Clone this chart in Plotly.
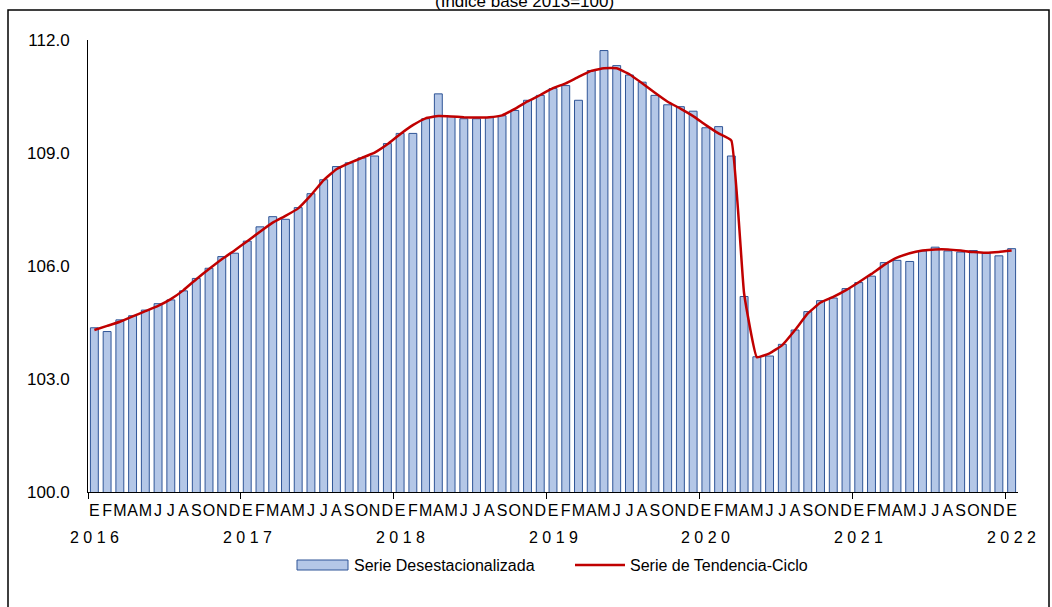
import plotly.graph_objects as go

# ---- data ----
month_letters = ["E", "F", "M", "A", "M", "J", "J", "A", "S", "O", "N", "D"]
years = ["2016", "2017", "2018", "2019", "2020", "2021", "2022"]

serie_desest = [
    104.36, 104.26, 104.57, 104.68, 104.83, 105.00, 105.10, 105.34, 105.67, 105.94, 106.25, 106.34,  # 2016
    106.66, 107.04, 107.31, 107.24, 107.55, 107.92, 108.29, 108.64, 108.74, 108.87, 108.92, 109.25,  # 2017
    109.52, 109.52, 109.91, 110.57, 109.97, 109.91, 109.91, 109.94, 109.99, 110.13, 110.40, 110.53,  # 2018
    110.71, 110.79, 110.40, 111.19, 111.72, 111.32, 111.07, 110.88, 110.53, 110.28, 110.23, 110.11,  # 2019
    109.67, 109.70, 108.92, 105.19, 103.59, 103.61, 103.92, 104.30, 104.79, 105.08, 105.15, 105.40,  # 2020
    105.56, 105.73, 106.09, 106.15, 106.12, 106.40, 106.50, 106.40, 106.37, 106.41, 106.35, 106.27,  # 2021
    106.46,                                                                                          # 2022
]

serie_tendencia = [
    104.30, 104.41, 104.52, 104.66, 104.80, 104.94, 105.12, 105.36, 105.65, 105.92, 106.18, 106.41,
    106.66, 106.91, 107.15, 107.33, 107.53, 107.88, 108.28, 108.57, 108.73, 108.87, 109.01, 109.23,
    109.50, 109.74, 109.92, 109.98, 109.97, 109.95, 109.94, 109.95, 110.00, 110.17, 110.37, 110.54,
    110.72, 110.85, 111.02, 111.18, 111.25, 111.25, 111.09, 110.85, 110.60, 110.36, 110.18, 109.98,
    109.74, 109.52, 109.33, 105.27, 103.58, 103.68, 103.90, 104.30, 104.74, 105.03, 105.18, 105.36,
    105.57, 105.79, 106.03, 106.22, 106.34, 106.41, 106.44, 106.44, 106.41, 106.37, 106.35, 106.37,
    106.41,
]

y_ticks = [100, 103, 106, 109, 112]
legend_names = ["Serie Desestacionalizada", "Serie de Tendencia-Ciclo"]

n = len(serie_desest)
x_idx = list(range(n))
tick_text = [month_letters[i % 12] for i in x_idx]
year_boundaries = [12 * k - 0.5 for k in range(len(years))]

FONT = "Liberation Sans, Arial, sans-serif"
BAR_FILL = "#B4C7E7"
BAR_EDGE = "#2F5597"
LINE_COL = "#C00000"

# plot area in pixels
L, R, T, B = 88, 1018, 40, 492
W, H = R - L, B - T


def px(xp):
    return (xp - L) / W


def py(yp):
    return (B - yp) / H


fig = go.Figure()
fig.add_trace(go.Bar(
    x=x_idx, y=serie_desest, name=legend_names[0],
    marker=dict(color=BAR_FILL, line=dict(color=BAR_EDGE, width=1)),
    width=0.62, showlegend=False,
))
fig.add_trace(go.Scatter(
    x=x_idx, y=serie_tendencia, name=legend_names[1],
    mode="lines", line=dict(color=LINE_COL, width=2.5, shape="spline", smoothing=0.3),
    showlegend=False,
))

annotations = []
for k, yr in enumerate(years):
    annotations.append(dict(
        x=12 * k, xref="x", y=py(537), yref="paper",
        text=" ".join(yr), showarrow=False, xanchor="center", yanchor="middle",
        font=dict(family=FONT, size=16, color="black"),
    ))
annotations.append(dict(
    x=px(524), xref="paper", y=py(2), yref="paper",
    text="(Índice base 2013=100)", showarrow=False, xanchor="center", yanchor="middle",
    font=dict(family=FONT, size=17, color="black"),
))
# legend texts
annotations.append(dict(
    x=px(352), xref="paper", y=py(565), yref="paper", text=legend_names[0],
    showarrow=False, xanchor="left", yanchor="middle",
    font=dict(family=FONT, size=16, color="black"),
))
annotations.append(dict(
    x=px(628), xref="paper", y=py(565), yref="paper", text=legend_names[1],
    showarrow=False, xanchor="left", yanchor="middle",
    font=dict(family=FONT, size=16, color="black"),
))

shapes = [
    # outer frame
    dict(type="rect", xref="paper", yref="paper",
         x0=px(8), x1=px(1049), y0=py(640), y1=py(10),
         line=dict(color="black", width=1.5), fillcolor="rgba(0,0,0,0)", layer="above"),
    # legend symbols
    dict(type="rect", xref="paper", yref="paper",
         x0=px(297), x1=px(348), y0=py(570), y1=py(560),
         line=dict(color=BAR_EDGE, width=1), fillcolor=BAR_FILL, layer="above"),
    dict(type="line", xref="paper", yref="paper",
         x0=px(575), x1=px(625), y0=py(565), y1=py(565),
         line=dict(color=LINE_COL, width=2.5), layer="above"),
]

fig.update_layout(
    width=1052, height=607,
    margin=dict(l=L, r=1052 - R, t=T, b=607 - B),
    paper_bgcolor="white", plot_bgcolor="white",
    font=dict(family=FONT, size=16, color="black"),
    showlegend=False,
    xaxis=dict(
        range=[-0.5, n - 0.5], tickmode="array", tickvals=x_idx, ticktext=tick_text,
        ticks="", showline=True, linecolor="black", linewidth=1, showgrid=False, zeroline=False,
        tickfont=dict(family=FONT, size=16, color="black"), ticklabelstandoff=4, tickangle=0,
        minor=dict(tickmode="array", tickvals=year_boundaries, ticks="outside", ticklen=6,
                   tickcolor="black", tickwidth=1, showgrid=False),
        fixedrange=True,
    ),
    yaxis=dict(
        range=[100, 112], tickmode="array", tickvals=y_ticks,
        ticktext=[f"{v:.1f}" for v in y_ticks], ticks="", showline=True, linecolor="black",
        linewidth=1, showgrid=False, zeroline=False,
        tickfont=dict(family=FONT, size=17, color="black"), ticklabelstandoff=14,
        fixedrange=True,
    ),
    annotations=annotations,
    shapes=shapes,
)

fig.write_html("out.html", config={"displayModeBar": False},
               post_script="document.body.style.margin='0';")
